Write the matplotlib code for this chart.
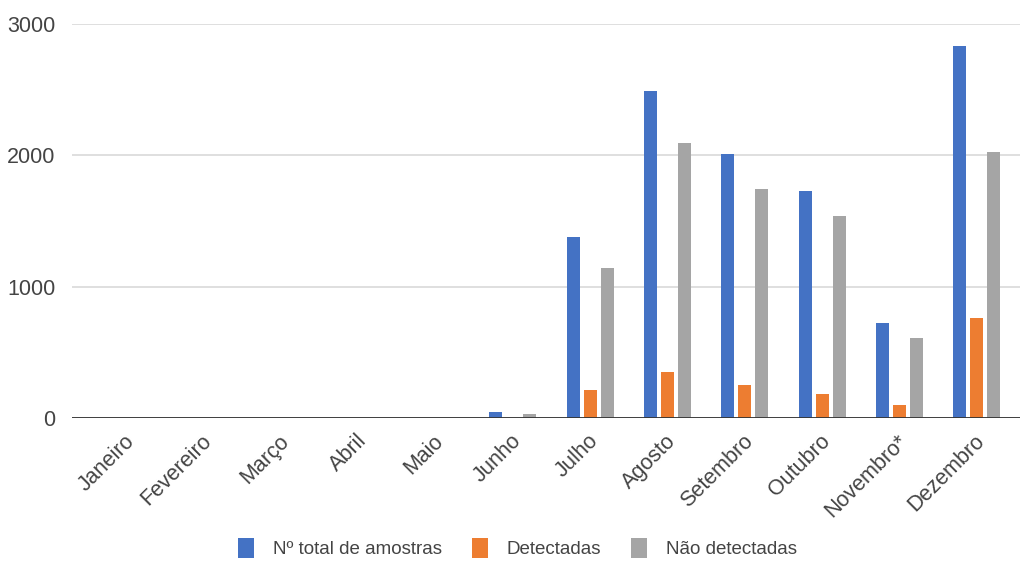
import numpy as np
import matplotlib.pyplot as plt

meses = ["Janeiro", "Fevereiro", "Março", "Abril", "Maio", "Junho",
         "Julho", "Agosto", "Setembro", "Outubro", "Novembro*", "Dezembro"]
total = [0, 0, 0, 0, 0, 43, 1378, 2490, 2012, 1732, 722, 2836]
detectadas = [0, 0, 0, 0, 0, 0, 213, 350, 252, 183, 99, 760]
nao_detectadas = [0, 0, 0, 0, 0, 30, 1140, 2097, 1746, 1535, 610, 2026]

plt.rcParams['font.family'] = ['Liberation Sans', 'DejaVu Sans']

fig = plt.figure(figsize=(10.21, 5.61), dpi=100)
ax = fig.add_axes([0.0705, 0.2549, 0.9285, 0.7023])

x = np.arange(len(meses))
w = 0.168
step = 0.22
ax.bar(x - step, total, w, color="#4472C4", label="Nº total de amostras", zorder=3)
ax.bar(x, detectadas, w, color="#ED7D31", label="Detectadas", zorder=3)
ax.bar(x + step, nao_detectadas, w, color="#A5A5A5", label="Não detectadas", zorder=3)

ax.set_ylim(0, 3000)
ax.set_xlim(-0.7, 11.56)
ax.set_yticks([0, 1000, 2000, 3000])
ax.yaxis.grid(True, color="#d9d9d9", linewidth=1.2, zorder=0)
ax.axhline(0, color="#333333", linewidth=1.3, zorder=4)
for s in ax.spines.values():
    s.set_visible(False)
ax.tick_params(axis="both", length=0, labelcolor="#444444", labelsize=15.5)
ax.tick_params(axis="y", pad=12)

ax.set_xticks(x - 0.03)
ax.set_xticklabels(meses, rotation=45, ha="right", va="top",
                   rotation_mode="anchor")
ax.tick_params(axis="x", pad=9)

leg = fig.legend(loc="center", bbox_to_anchor=(0.507, 0.023), ncol=3,
                 frameon=False, fontsize=13.5, handlelength=0.85, handleheight=1.3,
                 columnspacing=1.6, handletextpad=1.0, borderpad=0)
for t in leg.get_texts():
    t.set_color("#444444")

fig.savefig("out.png", dpi=100)
